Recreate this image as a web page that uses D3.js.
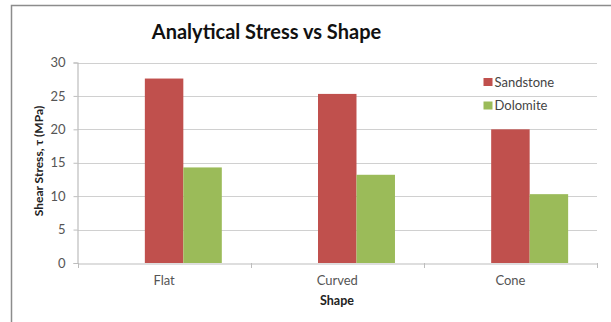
<!DOCTYPE html>
<html>
<head>
<meta charset="utf-8">
<script src="https://cdn.jsdelivr.net/npm/d3@7"></script>
<style>
  html, body { margin: 0; padding: 0; background: #fff; }
  svg { display: block; font-family: Lato, "Open Sans", sans-serif; }
</style>
</head>
<body>
<svg id="chart" width="611" height="322"></svg>
<script>
// Shear stress by indenter shape for two rock types
const shapes = ["Flat", "Curved", "Cone"];
const seriesNames = ["Sandstone", "Dolomite"];
const sandstone = [27.6, 25.3, 20.0];
const dolomite = [14.3, 13.2, 10.3];
const yTicks = [0, 5, 10, 15, 20, 25, 30];
const colors = ["#C0504D", "#9BBB59"];

const svg = d3.select("#chart");
const W = 611, H = 322;
const plot = { left: 77.5, right: 597, top: 62.5, bottom: 263 };

// outer frame (top and left edges show)
svg.append("path")
  .attr("d", `M11.5,${H} V5.5 H${W}`)
  .attr("fill", "none").attr("stroke", "#8c8c8c").attr("stroke-width", 1.5);

const x = d3.scaleBand().domain(shapes).range([plot.left, plot.right]);
// three bar slots per category; the two series fill slots 1 and 2
const slot = d3.scaleBand().domain([0, 1, 2])
  .range([0, x.bandwidth()]).paddingInner(0).paddingOuter(0.75);
const y = d3.scaleLinear().domain([0, 30]).range([plot.bottom, plot.top]);

// gridlines
svg.append("g").selectAll("line").data(yTicks.filter(t => t > 0)).join("line")
  .attr("x1", plot.left).attr("x2", plot.right)
  .attr("y1", d => Math.round(y(d)) + 0.5).attr("y2", d => Math.round(y(d)) + 0.5)
  .attr("stroke", "#d0d0d0").attr("stroke-width", 1.2);

// y axis
const yAxis = svg.append("g")
  .attr("transform", `translate(${plot.left},0)`)
  .call(d3.axisLeft(y).tickValues(yTicks).tickSize(4).tickPadding(8));
yAxis.select(".domain").attr("stroke", "#bdbdbd").attr("stroke-width", 1.2);
yAxis.selectAll(".tick line").attr("stroke", "#bdbdbd");
yAxis.selectAll(".tick text")
  .attr("font-family", "Lato, sans-serif").attr("font-size", 13).attr("fill", "#555");

// bars
const groups = svg.append("g").selectAll("g").data(shapes).join("g")
  .attr("transform", d => `translate(${x(d)},0)`);
groups.selectAll("rect")
  .data((d, i) => [sandstone[i], dolomite[i]].map((v, k) => ({ v, k })))
  .join("rect")
  .attr("x", d => slot(d.k + 1))
  .attr("width", slot.bandwidth())
  .attr("y", d => y(d.v))
  .attr("height", d => y(0) - y(d.v))
  .attr("fill", d => colors[d.k]);

// x axis
const xAxis = svg.append("g")
  .attr("transform", `translate(0,${Math.round(plot.bottom) + 0.5})`)
  .call(d3.axisBottom(x).tickSize(0).tickPadding(12));
xAxis.select(".domain").attr("stroke", "#bdbdbd").attr("stroke-width", 1.2);
xAxis.selectAll(".tick text")
  .attr("font-family", "Lato, sans-serif").attr("font-size", 13).attr("fill", "#555");
// category boundary ticks
svg.append("g").selectAll("line")
  .data([...shapes.map(s => x(s)), plot.right])
  .join("line")
  .attr("x1", d => Math.round(d) + 0.5).attr("x2", d => Math.round(d) + 0.5)
  .attr("y1", Math.round(plot.bottom)).attr("y2", Math.round(plot.bottom) + 5)
  .attr("stroke", "#bdbdbd");

// title
svg.append("text")
  .attr("x", 266.5).attr("y", 38.5)
  .attr("text-anchor", "middle")
  .attr("font-family", "Lato, sans-serif").attr("font-weight", 700)
  .attr("font-size", 20).attr("fill", "#111")
  .text("Analytical Stress vs Shape");

// axis titles
svg.append("text")
  .attr("x", 337).attr("y", 305)
  .attr("text-anchor", "middle")
  .attr("font-family", "Lato, sans-serif").attr("font-weight", 700)
  .attr("font-size", 12.5).attr("fill", "#222")
  .text("Shape");
svg.append("text")
  .attr("transform", "translate(43,161) rotate(-90)")
  .attr("text-anchor", "middle")
  .attr("font-family", "Lato, sans-serif").attr("font-weight", 700)
  .attr("font-size", 12).attr("fill", "#222")
  .text("Shear Stress, τ (MPa)");

// legend
const legend = svg.append("g").attr("transform", "translate(483.5,78)");
const items = legend.selectAll("g").data(seriesNames).join("g")
  .attr("transform", (d, i) => `translate(0,${i * 23.5})`);
items.append("rect").attr("width", 9).attr("height", 8)
  .attr("fill", (d, i) => colors[i]);
items.append("text").attr("x", 11).attr("y", 4).attr("dy", "0.35em")
  .attr("font-family", "Lato, sans-serif").attr("font-size", 13).attr("fill", "#444")
  .text(d => d);
</script>
</body>
</html>
